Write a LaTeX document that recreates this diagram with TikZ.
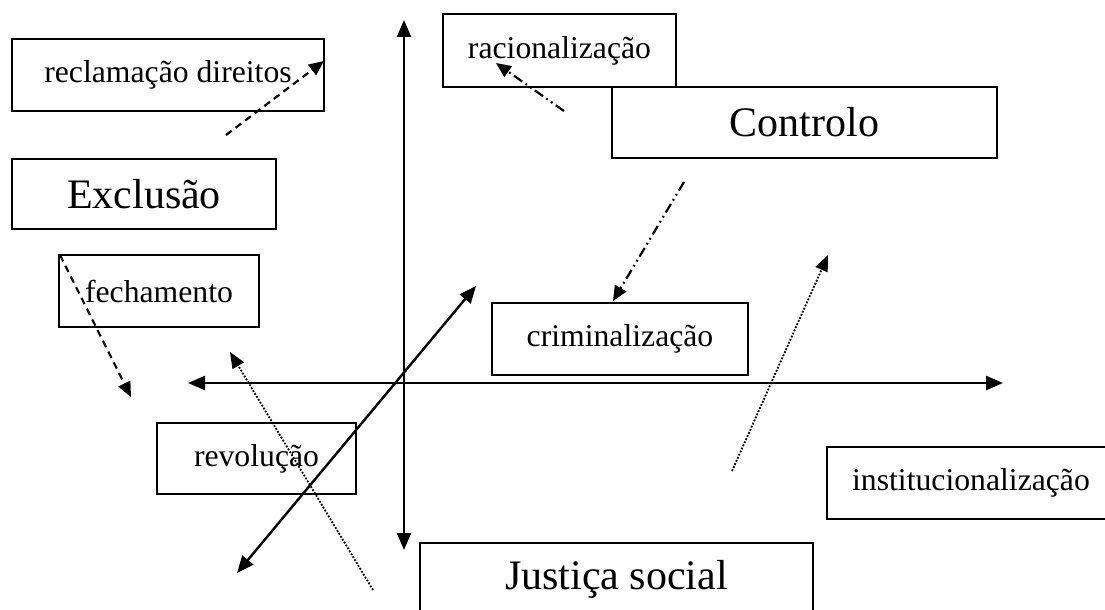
\documentclass[tikz,border=0pt]{standalone}
\usepackage{fontspec}
\setmainfont{Liberation Serif}
\usetikzlibrary{arrows.meta}
\begin{document}
\begin{tikzpicture}[x=1pt,y=-1pt,
  box/.style={draw, line width=2.4pt, inner sep=0pt, rectangle},
  smalltext/.style={font=\fontsize{31.7}{36}\selectfont},
  bigtext/.style={font=\fontsize{42}{48}\selectfont},
  axisline/.style={line width=2.4pt, {Triangle[length=17pt,width=14pt]}-{Triangle[length=17pt,width=14pt]}},
  dashedarrow/.style={line width=2.2pt, dash pattern=on 7pt off 5pt, -{Triangle[length=15pt,width=13pt]}},
  dashdotarrow/.style={line width=2.2pt, dash pattern=on 10pt off 4pt on 1.8pt off 4pt on 1.8pt off 4pt, -{Triangle[length=15pt,width=13pt]}},
  dottedarrow/.style={line width=1.8pt, dash pattern=on 1.8pt off 1.6pt, -{Triangle[length=16pt,width=13pt]}}
]
\useasboundingbox (0,0) rectangle (1105,610);

% boxes
\node[box, smalltext, minimum width=312pt, minimum height=72pt] (recl) at (168,75) {reclamação direitos};
\node[box, bigtext, minimum width=264pt, minimum height=70pt] (excl) at (144,194) {Exclusão};
\node[box, smalltext, minimum width=233pt, minimum height=73pt] (raci) at (559.5,50.5) {racionalização};
\node[box, bigtext, minimum width=385pt, minimum height=71pt] (ctrl) at (804.5,122.5) {Controlo};
\node[box, smalltext, minimum width=200pt, minimum height=72pt] (fech) at (159,291) {fechamento};
\node[box, smalltext, minimum width=199pt, minimum height=71pt] (revo) at (256.5,458.5) {revolução};
\node[box, smalltext, minimum width=256pt, minimum height=72pt] (crim) at (620,339) {criminalização};
\node[box, smalltext, minimum width=288pt, minimum height=72pt] (inst) at (971,483) {institucionalização};
\node[box, bigtext, minimum width=393pt, minimum height=72pt] (just) at (616.5,579) {Justiça social};

% axis end points
\coordinate (vt) at (404,20);
\coordinate (vb) at (404,550);
\coordinate (hl) at (188,383);
\coordinate (hr) at (1003,383);
\coordinate (dl) at (237,573);
\coordinate (du) at (476,286);

\draw[axisline] (vt) -- (vb);
\draw[axisline] (hl) -- (hr);
\draw[axisline] (dl) -- (du);

% connector end points
\coordinate (a1s) at (226,135);
\coordinate (a1e) at (324,61);
\coordinate (a2s) at (60,255);
\coordinate (a2e) at (131,397);
\coordinate (a3s) at (564,111);
\coordinate (a3e) at (496,63);
\coordinate (a4s) at (684,182);
\coordinate (a4e) at (613,301);
\coordinate (a5s) at (373,590);
\coordinate (a5e) at (230,352);
\coordinate (a6s) at (732,471);
\coordinate (a6e) at (828,255);

\draw[dashedarrow] (a1s) -- (a1e);
\draw[dashedarrow] (a2s) -- (a2e);
\draw[dashdotarrow] (a3s) -- (a3e);
\draw[dashdotarrow] (a4s) -- (a4e);
\draw[dottedarrow] (a5s) -- (a5e);
\draw[dottedarrow] (a6s) -- (a6e);
\end{tikzpicture}
\end{document}
